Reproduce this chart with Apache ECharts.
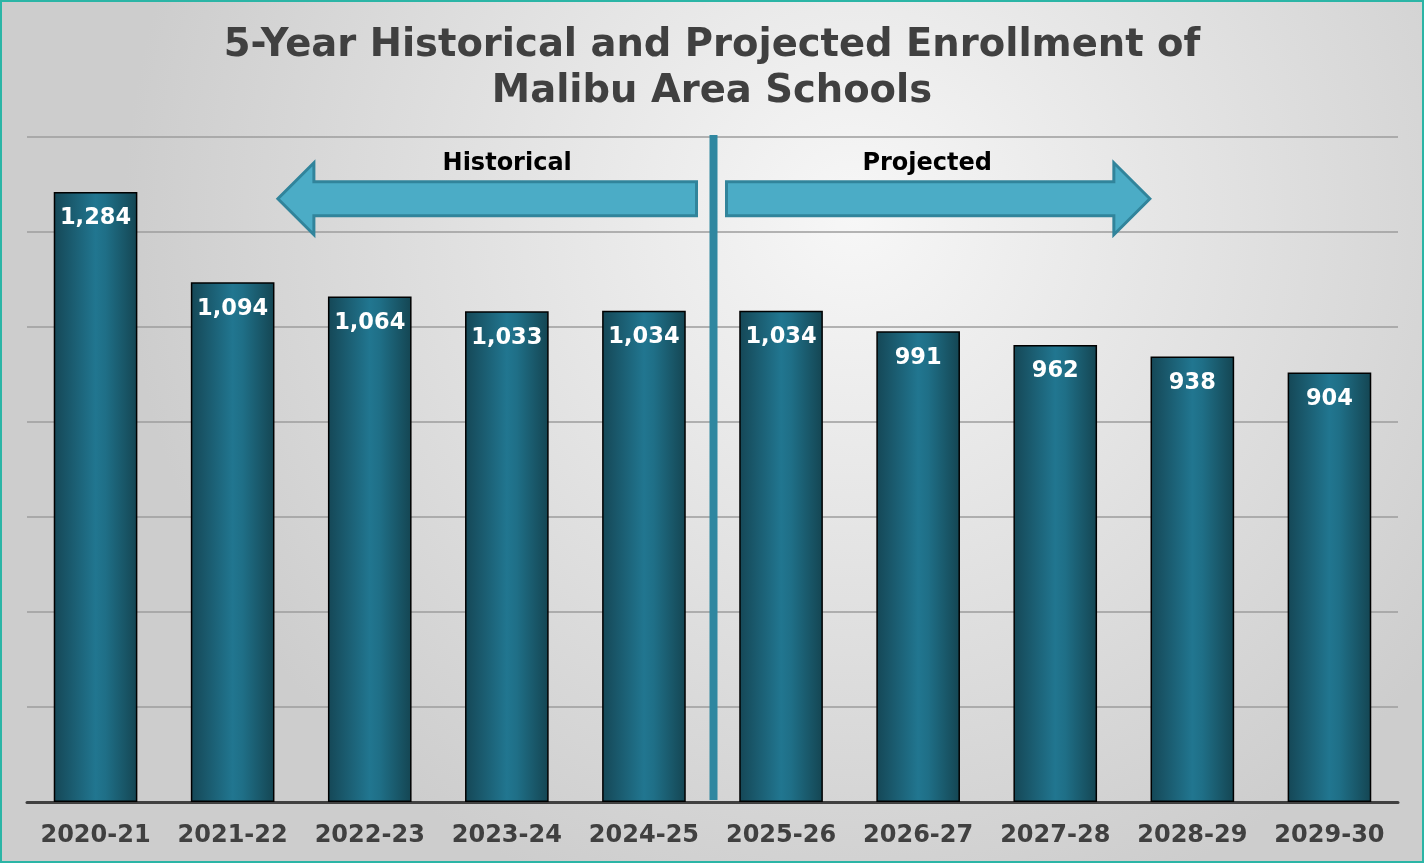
<!DOCTYPE html>
<html>
<head>
<meta charset="utf-8">
<script src="https://cdn.jsdelivr.net/npm/echarts@6/dist/echarts.min.js"></script>
<style>
  html, body { margin: 0; padding: 0; }
  #chart { width: 1424px; height: 863px; box-sizing: border-box; border: 2px solid #2bb5a6; }
</style>
</head>
<body>
<div id="chart"></div>
<script>
// School years and enrollment counts
const years = ['2020-21', '2021-22', '2022-23', '2023-24', '2024-25',
               '2025-26', '2026-27', '2027-28', '2028-29', '2029-30'];
const enrollment = [1284, 1094, 1064, 1033, 1034, 1034, 991, 962, 938, 904];
const titleLines = ['5-Year Historical and Projected Enrollment of', 'Malibu Area Schools'];
const periodLabels = ['Historical', 'Projected'];
const lastHistoricalIndex = 4;

const chart = echarts.init(document.getElementById('chart'), null, { renderer: 'canvas' });

const barFill = new echarts.graphic.LinearGradient(0, 0, 1, 0, [
  { offset: 0, color: '#154756' },
  { offset: 0.5, color: '#217690' },
  { offset: 0.62, color: '#1f6f87' },
  { offset: 1, color: '#144552' }
]);

chart.setOption({
  backgroundColor: new echarts.graphic.RadialGradient(0.6, 0.25, 0.85, [
    { offset: 0, color: '#f7f7f7' },
    { offset: 1, color: '#cdcdcd' }
  ]),
  title: {
    text: titleLines.join('\n'),
    left: 'center',
    top: 16,
    textStyle: {
      fontFamily: 'DejaVu Sans',
      fontWeight: 'bold',
      fontSize: 38.5,
      lineHeight: 46,
      color: '#404040'
    }
  },
  grid: { left: 25, right: 24, top: 135, bottom: 59, containLabel: false },
  xAxis: {
    type: 'category',
    data: years,
    axisTick: { show: false },
    axisLine: { lineStyle: { color: '#404040', width: 3 } },
    axisLabel: {
      interval: 0,
      hideOverlap: false,
      margin: 22,
      fontFamily: 'DejaVu Sans',
      fontWeight: 'bold',
      fontSize: 24,
      color: '#404040'
    }
  },
  yAxis: {
    type: 'value',
    min: 0,
    max: 1400,
    interval: 200,
    axisLabel: { show: false },
    axisLine: { show: false },
    axisTick: { show: false },
    splitLine: { lineStyle: { color: '#9c9c9c', width: 1.5 } }
  },
  series: [{
    type: 'bar',
    data: enrollment,
    barCategoryGap: '39%',
    itemStyle: { color: barFill, borderColor: '#000000', borderWidth: 1.5 },
    label: {
      show: true,
      position: 'insideTop',
      distance: 15,
      formatter: p => p.value.toLocaleString('en-US'),
      fontFamily: 'DejaVu Sans',
      fontWeight: 'bold',
      fontSize: 22.5,
      color: '#ffffff'
    },
    z: 2
  }]
});

// Divider and period arrows, positioned from the axis scale
function drawAnnotations() {
  const x4 = chart.convertToPixel({ xAxisIndex: 0 }, years[lastHistoricalIndex]);
  const x5 = chart.convertToPixel({ xAxisIndex: 0 }, years[lastHistoricalIndex + 1]);
  const step = x5 - x4;
  const xDiv = (x4 + x5) / 2;
  const yTop = chart.convertToPixel({ yAxisIndex: 0 }, 1400);
  const yBase = chart.convertToPixel({ yAxisIndex: 0 }, 0);
  const yMid = chart.convertToPixel({ yAxisIndex: 0 }, 1270);
  const shaftH = 34, headH = 72, headLen = 36;
  const gap = 14;

  const leftTip = chart.convertToPixel({ xAxisIndex: 0 }, years[1]) + 0.33 * step;
  const rightTip = chart.convertToPixel({ xAxisIndex: 0 }, years[7]) + 0.69 * step;

  function arrowPts(tail, tip) {
    const dir = tip > tail ? 1 : -1;
    const hb = tip - dir * headLen;
    return [
      [tail, yMid - shaftH / 2], [hb, yMid - shaftH / 2], [hb, yMid - headH / 2],
      [tip, yMid], [hb, yMid + headH / 2], [hb, yMid + shaftH / 2], [tail, yMid + shaftH / 2]
    ];
  }
  const arrowStyle = { fill: '#4bacc6', stroke: '#31849b', lineWidth: 3, lineJoin: 'miter' };
  const labelStyle = { fontFamily: 'DejaVu Sans', fontWeight: 'bold', fontSize: 24, fill: '#000000', align: 'center', verticalAlign: 'middle' };

  chart.setOption({
    graphic: [
      { type: 'line', z: 10, shape: { x1: xDiv + 1, y1: yTop - 2, x2: xDiv + 1, y2: yBase - 2 }, style: { stroke: '#2f87a0', lineWidth: 8 } },
      { type: 'polygon', z: 10, shape: { points: arrowPts(xDiv - gap - 2, leftTip) }, style: arrowStyle },
      { type: 'polygon', z: 10, shape: { points: arrowPts(xDiv + gap, rightTip) }, style: arrowStyle },
      { type: 'text', z: 10, style: Object.assign({ text: periodLabels[0], x: (leftTip + xDiv) / 2 + 12, y: yMid - 35 }, labelStyle) },
      { type: 'text', z: 10, style: Object.assign({ text: periodLabels[1], x: (rightTip + xDiv) / 2 - 4, y: yMid - 35 }, labelStyle) }
    ]
  });
}
drawAnnotations();
</script>
</body>
</html>
